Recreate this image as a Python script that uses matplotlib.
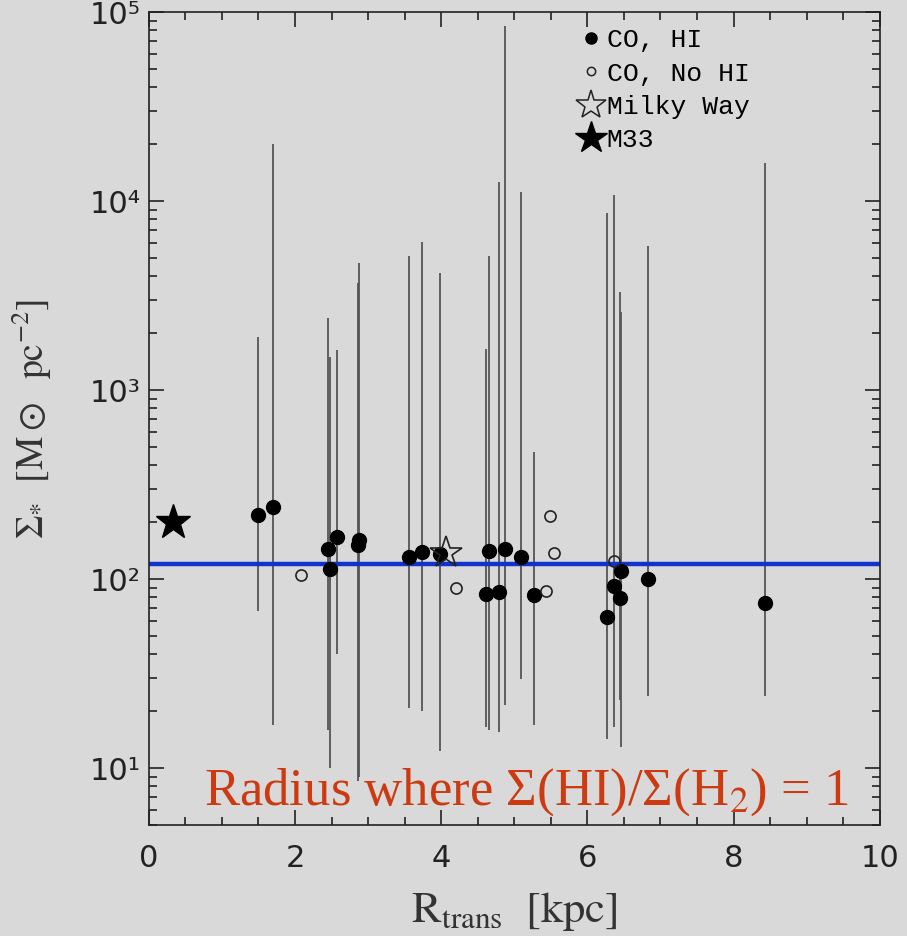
import math

import matplotlib
matplotlib.use("Agg")
import matplotlib.pyplot as plt
from matplotlib.lines import Line2D
from matplotlib.ticker import FixedLocator, FuncFormatter, LogLocator, MultipleLocator

# galaxies with CO and HI: radius, surface density, error-bar low, error-bar high
co_hi_r = [1.49, 1.70, 2.45, 2.48, 2.57, 2.86, 2.87, 3.56, 3.74, 3.98, 4.61,
           4.66, 4.79, 4.88, 5.09, 5.27, 6.27, 6.36, 6.44, 6.46, 6.83, 8.43]
co_hi_sigma = [218, 240, 145, 113, 168, 152, 161, 131, 140, 136, 83,
               141, 85, 145, 131, 82, 63, 92, 79, 110, 100, 75]
co_hi_lo = [68, 17, 16, 10, 40, 8.5, 9, 20.7, 20, 12.3, 16.6,
            16, 15.5, 21.7, 29.5, 17, 14.2, 16.6, 23, 13, 24, 24]
co_hi_hi = [1900, 20000, 2400, 1500, 1630, 3700, 4700, 5100, 6100, 4150, 1660,
            5100, 12600, 85000, 11200, 470, 8700, 10800, 3300, 2600, 5800, 16000]

# galaxies with CO but no HI
co_nohi_r = [2.08, 4.20, 5.43, 5.49, 5.55, 6.37]
co_nohi_sigma = [105, 90, 87, 215, 138, 124]

milky_way = (4.07, 138)
m33 = (0.33, 200)
sigma_mean = 120

bg = "#d9d9d9"
serif = "Liberation Serif"

fig = plt.figure(figsize=(9.07, 9.36), dpi=100, facecolor=bg)
ax = fig.add_axes([0.164, 0.1186, 0.806, 0.8684], facecolor=bg)

ax.vlines(co_hi_r, co_hi_lo, co_hi_hi, color="#555555", lw=1.3, zorder=1)
ax.axhline(sigma_mean, color="#1133cc", lw=3.2, zorder=2)
ax.plot(co_hi_r, co_hi_sigma, "o", color="black", ms=10, ls="none", zorder=3)
ax.plot(co_nohi_r, co_nohi_sigma, "o", mfc="none", mec="#222222", mew=1.2,
        ms=8, ls="none", zorder=3)
ax.plot(*milky_way, marker="*", mfc="none", mec="#222222", mew=1.2, ms=24, zorder=3)
ax.plot(*m33, marker="*", color="black", ms=26, zorder=3)

ax.set_yscale("log")
ax.set_xlim(0, 10)
ax.set_ylim(5, 1e5)

ax.xaxis.set_major_locator(MultipleLocator(2))
ax.xaxis.set_minor_locator(MultipleLocator(0.5))
ax.yaxis.set_major_locator(FixedLocator([1e1, 1e2, 1e3, 1e4, 1e5]))
ax.yaxis.set_minor_locator(LogLocator(base=10, subs=range(2, 10)))
sup = {1: "¹", 2: "²", 3: "³", 4: "⁴", 5: "⁵"}
ax.yaxis.set_major_formatter(FuncFormatter(lambda v, p: "10" + sup.get(int(round(math.log10(v))), "")))
ax.yaxis.set_minor_formatter(FuncFormatter(lambda v, p: ""))

ax.tick_params(which="both", direction="in", top=True, right=True, width=1.2,
               labelsize=22, colors="#222222")
ax.tick_params(which="major", length=11)
ax.tick_params(which="minor", length=6)
ax.tick_params(axis="x", pad=14)
ax.tick_params(axis="y", pad=6)
for s in ax.spines.values():
    s.set_linewidth(1.2)
    s.set_color("#222222")

ax.set_xlabel(r"$\mathrm{R_{trans}}\ \ [\mathrm{kpc}]$", fontsize=32, color="#333333",
              labelpad=12)
ax.xaxis.label.set_math_fontfamily("stix")
ax.set_ylabel(r"$\Sigma_{*}\ \ [\mathrm{M}\odot\ \ \mathrm{pc}^{-2}]$", fontsize=27, color="#333333")
ax.yaxis.label.set_math_fontfamily("stix")
ax.yaxis.set_label_coords(-0.13, 0.5)

ax.text(0.075, 0.025, r"Radius where Σ(HI)/Σ(H$_2$) = 1", transform=ax.transAxes,
        fontsize=38, family=serif, color="#cc3a12", va="baseline",
        math_fontfamily="stix", zorder=4)

handles = [
    Line2D([], [], marker="o", color="black", ls="none", ms=8),
    Line2D([], [], marker="o", mfc="none", mec="#222222", mew=1.1, ls="none", ms=6),
    Line2D([], [], marker="*", mfc="none", mec="#222222", mew=1.1, ls="none", ms=22),
    Line2D([], [], marker="*", color="black", ls="none", ms=24),
]
labels = ["CO, HI", "CO, No HI", "Milky Way", "M33"]
ax.legend(handles, labels, loc="upper left", bbox_to_anchor=(0.585, 0.98),
          frameon=False, handlelength=1.1, handletextpad=0.05, labelspacing=0.35,
          borderpad=0, borderaxespad=0, prop={"family": "Liberation Mono", "size": 19})

fig.savefig("out.png", dpi=100, facecolor=bg)
